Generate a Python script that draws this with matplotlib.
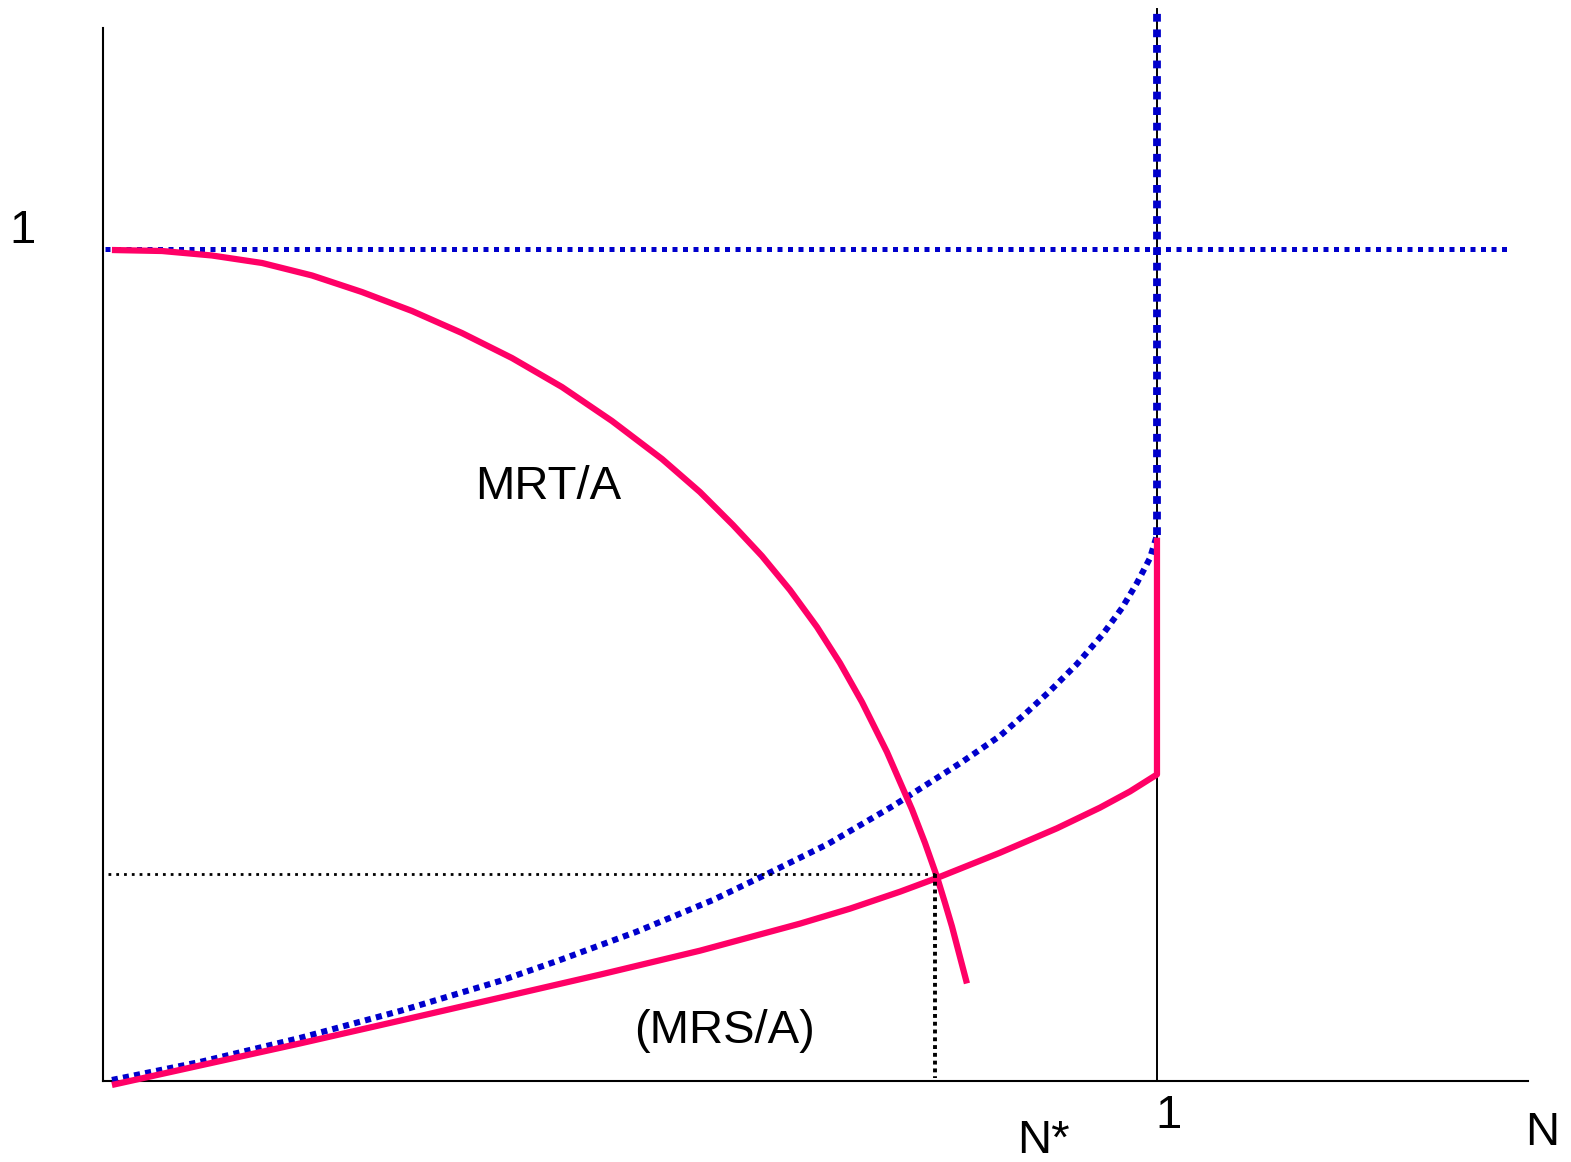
import matplotlib
matplotlib.use('Agg')
import matplotlib.pyplot as plt

# Curves (x: N, with N = 1 at the right mark; y: 1 at the top mark)
mrt_x = [0.0085, 0.0560, 0.1034, 0.1509, 0.1983, 0.2457, 0.2932, 0.3406, 0.3880,
         0.4355, 0.4829, 0.5304, 0.5664, 0.5977, 0.6252, 0.6518, 0.6774, 0.6992,
         0.7201, 0.7438, 0.7676, 0.7799, 0.7913, 0.7989, 0.8055, 0.8131, 0.8197]
mrt_y = [0.9988, 0.9976, 0.9922, 0.9832, 0.9682, 0.9483, 0.9255, 0.8990, 0.8690,
         0.8341, 0.7933, 0.7476, 0.7079, 0.6683, 0.6310, 0.5901, 0.5457, 0.5024,
         0.4555, 0.3954, 0.3263, 0.2861, 0.2452, 0.2139, 0.1857, 0.1490, 0.1172]

# lower pink curve (MRS/A), ends in a vertical jump at N = 1
mrs_x = [0.0085, 0.0920, 0.1869, 0.2818, 0.3767, 0.4715, 0.5664, 0.6613, 0.7087,
         0.7562, 0.7913, 0.8510, 0.9051, 0.9459, 0.9744, 1.0, 1.0]
mrs_y = [-0.0048, 0.0186, 0.0451, 0.0725, 0.1001, 0.1278, 0.1566, 0.1891, 0.2071,
         0.2275, 0.2440, 0.2743, 0.3037, 0.3285, 0.3480, 0.3684, 0.653]

# blue dotted curve, then straight up at N = 1
blue_x = [0.0085, 0.0920, 0.1869, 0.2818, 0.3767, 0.4336, 0.5057, 0.5787, 0.6262,
          0.6879, 0.7495, 0.8150, 0.8510, 0.8748, 0.8985, 0.9241, 0.9488, 0.9668,
          0.9810, 0.9934, 1.0]
blue_y = [0.0012, 0.0228, 0.0517, 0.0841, 0.1202, 0.1454, 0.1791, 0.2175, 0.2464,
          0.2849, 0.3305, 0.3834, 0.4147, 0.4411, 0.4688, 0.5012, 0.5373, 0.5685,
          0.5986, 0.6286, 0.6562]
blue_top = 1.287

# horizontal blue line at 1
hline_y = 1.0
hline_x = [0.002, 1.335]

# equilibrium
n_star = 0.789
y_star = 0.249

pink = '#FF0066'
blue = '#0000CC'

fig = plt.figure(figsize=(15.71, 11.62), dpi=100)
ax = fig.add_axes([0, 0, 1, 1])
ax.set_xlim(-0.0977, 1.3928)
ax.set_ylim(-0.0974, 1.2993)

# axes lines
for s in ['top', 'right']:
    ax.spines[s].set_visible(False)
ax.spines['left'].set_position(('data', 0))
ax.spines['bottom'].set_position(('data', 0))
ax.spines['left'].set_bounds(0, 1.2656)
ax.spines['bottom'].set_bounds(0, 1.352)
ax.spines['left'].set_linewidth(1.5)
ax.spines['bottom'].set_linewidth(1.5)
ax.set_xticks([])
ax.set_yticks([])
ax.patch.set_alpha(0)

# thin black vertical at N = 1
ax.plot([1.0, 1.0], [0, 1.288], color='black', lw=1.4, zorder=2)

# blue dotted lines
ax.plot(hline_x, [hline_y, hline_y], color=blue, lw=3.6, linestyle=(0, (1, 1.1)), zorder=3)
ax.plot(blue_x, blue_y, color=blue, lw=4.4, linestyle=(0, (1, 0.85)), zorder=3)
ax.plot([1.0, 1.0], [blue_y[-1], blue_top], color=blue, lw=5.6, linestyle=(0, (1, 1.0)), zorder=3)

# pink curves
ax.plot(mrt_x, mrt_y, color=pink, lw=4.5, solid_capstyle='butt', solid_joinstyle='round', zorder=4)
ax.plot(mrs_x, mrs_y, color=pink, lw=4.5, solid_capstyle='butt', solid_joinstyle='round', zorder=4)

# equilibrium guide lines
ax.plot([0.005, n_star], [y_star, y_star], color='black', lw=2.0, linestyle=(0, (1, 1.8)), zorder=5)
ax.plot([n_star, n_star], [y_star, 0.004], color='black', lw=2.8, linestyle=(0, (1, 1.0)), zorder=5)

# labels
fs = 34
font = 'Liberation Sans'
ax.text(-0.0768, 1.007, '1', fontsize=fs, family=font, ha='center', va='baseline')
ax.text(0.422, 0.700, 'MRT/A', fontsize=fs, family=font, ha='center', va='baseline')
ax.text(0.590, 0.046, '(MRS/A)', fontsize=fs, family=font, ha='center', va='baseline')
ax.text(0.892, -0.0865, 'N*', fontsize=fs, family=font, ha='center', va='baseline')
ax.text(1.011, -0.0565, '1', fontsize=fs, family=font, ha='center', va='baseline')
ax.text(1.365, -0.077, 'N', fontsize=fs, family=font, ha='center', va='baseline')

plt.savefig('out.png', dpi=100)
plt.close()
